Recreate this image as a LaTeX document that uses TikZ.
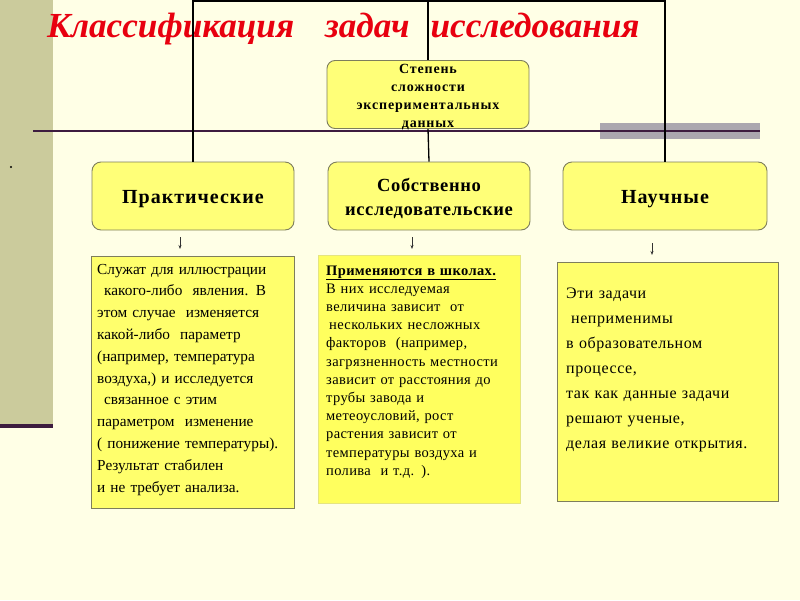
\documentclass[tikz,border=0pt]{standalone}
\usepackage{fontspec}
\setmainfont{Liberation Serif}
\usetikzlibrary{arrows.meta}
\definecolor{bgc}{HTML}{FFFFE6}
\definecolor{olive}{HTML}{CBCB9C}
\definecolor{darkline}{HTML}{3D1C3F}
\definecolor{grayrect}{HTML}{ABA7AF}
\definecolor{hdrfill}{HTML}{FFFF78}
\definecolor{boxfill}{HTML}{FFFF6C}
\definecolor{boxfillb}{HTML}{FFFF5E}
\definecolor{boxborder}{HTML}{7E7E5C}
\definecolor{titlered}{HTML}{E8000F}
\tikzset{
  hdr/.style={draw=boxborder, line width=0.9pt, fill=hdrfill, rounded corners=9pt, inner sep=0pt},
  txtbox/.style={draw=boxborder, line width=0.9pt, fill=boxfill, inner sep=0pt},
  txt/.style={anchor=base west, inner sep=0pt, align=left},
  conn/.style={draw=black, line width=1.3pt},
  smallarrow/.style={draw=black!80, line width=0.7pt, -{Stealth[length=4pt,width=3pt]}}
}
\begin{document}
\begin{tikzpicture}[x=1pt,y=-1pt]
\useasboundingbox (0,0) rectangle (800,600);
\fill[bgc] (0,0) rectangle (800,600);
% left band
\fill[olive] (0,0) rectangle (53,424);
\fill[darkline] (0,424) rectangle (53,428);
% gray rectangle and rule
\fill[grayrect] (600,123) rectangle (760,139);
% dot
\fill[black] (11,167) circle (1.2pt);
% title
\node[anchor=base west, inner sep=0pt, text=titlered, font=\fontsize{35.2}{40}\selectfont\bfseries\itshape] (title) at (47,37) {Классификация\hspace{31pt}задач\hspace{21pt}исследования};
% degree box
\node[hdr, minimum width=202pt, minimum height=68pt, rounded corners=8pt] (deg) at (428,94.5) {};
\node[anchor=base, inner sep=0pt, align=center, font=\fontsize{14}{18.3}\selectfont\bfseries\addfontfeatures{LetterSpace=6}, text width=200pt] (degt) at (428,73) {Степень\\сложности\\экспериментальных\\данных};
\draw[darkline, line width=1.4pt] (33,131) -- (760,131);
% header boxes
\node[hdr, minimum width=202pt, minimum height=68pt] (prak) at (193,196) {};
\node[hdr, minimum width=202pt, minimum height=68pt] (sobst) at (429,196) {};
\node[hdr, minimum width=204pt, minimum height=68pt] (nauch) at (665,196) {};
\node[anchor=base, inner sep=0pt, font=\fontsize{20}{24}\selectfont\bfseries\addfontfeatures{LetterSpace=5}] (prakt) at (193,203) {Практические};
\node[anchor=base, inner sep=0pt, align=center, text width=200pt, font=\fontsize{18.5}{24}\selectfont\bfseries\addfontfeatures{LetterSpace=3.5}] (sobstt) at (429,191) {Собственно\\исследовательские};
\node[anchor=base, inner sep=0pt, font=\fontsize{20}{24}\selectfont\bfseries\addfontfeatures{LetterSpace=5}] (naucht) at (665,203) {Научные};
% connectors
\coordinate (top) at (428,1);
\draw[conn] (prak.north) -- (prak.north |- top) -- (nauch.north |- top) -- (nauch.north);
\draw[conn] (top) -- (deg.north);
\draw[conn] (deg.south) -- (sobst.north);
% small arrows
\coordinate (a1s) at (180,237); \coordinate (a1e) at (180,249);
\coordinate (a2s) at (412,237); \coordinate (a2e) at (412,249);
\coordinate (a3s) at (652,243); \coordinate (a3e) at (652,255);
\draw[smallarrow] (a1s) -- (a1e);
\draw[smallarrow] (a2s) -- (a2e);
\draw[smallarrow] (a3s) -- (a3e);
% text boxes
\node[txtbox, minimum width=203pt, minimum height=252pt] (b1) at (192.5,382) {};
\node[fill=boxfillb, draw=boxfillb!70!white!90!black, line width=0.5pt, inner sep=0pt, minimum width=202pt, minimum height=248pt] (b2) at (419,379) {};
\node[txtbox, minimum width=221pt, minimum height=239pt] (b3) at (667.5,382) {};
\node[txt, text width=200pt, font=\fontsize{15.3}{21.8}\selectfont] (b1t) at (97,274) {Служат для иллюстрации\\
\hspace{7pt}какого-либо\ \ явления. В\\
этом случае\ \ изменяется\\
какой-либо\ \ параметр\\
(например, температура\\
воздуха,) и исследуется\\
\hspace{7pt}связанное с этим\\
параметром\ \ изменение\\
( понижение температуры).\\
Результат стабилен\\
и не требует анализа.};
\node[txt, text width=200pt, font=\fontsize{14.5}{18.2}\selectfont\addfontfeatures{LetterSpace=2.5}] (b2t) at (326,275) {\textbf{\underline{Применяются в школах.}}\\
В них исследуемая\\
величина зависит\ \ от\\
\hspace{3pt}нескольких несложных\\
факторов\ \ (например,\\
загрязненность местности\\
зависит от расстояния до\\
трубы завода и\\
метеоусловий, рост\\
растения зависит от\\
температуры воздуха и\\
полива\ \ и т.д. ).};
\node[txt, text width=215pt, font=\fontsize{16}{25}\selectfont\addfontfeatures{LetterSpace=3.5}] (b3t) at (566,298) {Эти задачи\\
\hspace{5pt}неприменимы\\
в образовательном\\
процессе,\\
так как данные задачи\\
решают ученые,\\
делая великие открытия.};
\end{tikzpicture}
\end{document}
